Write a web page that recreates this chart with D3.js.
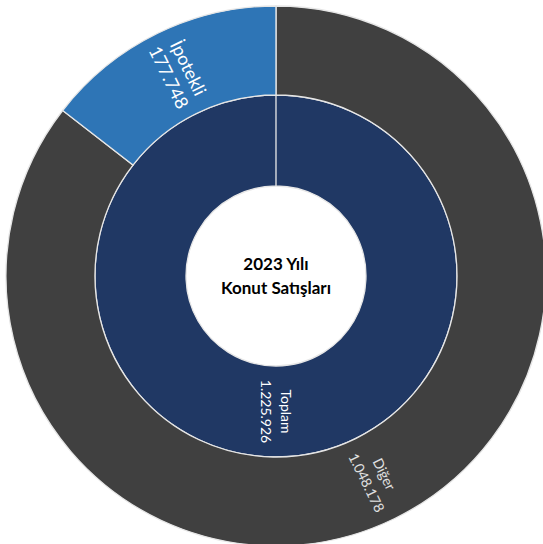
<!DOCTYPE html>
<html>
<head>
<meta charset="utf-8">
<script src="https://cdn.jsdelivr.net/npm/d3@7"></script>
<style>
  html, body { margin: 0; padding: 0; background: #fff; }
  svg { display: block; }
</style>
</head>
<body>
<div id="chart"></div>
<script>
// chart values
var titleLines = ["2023 Yılı", "Konut Satışları"];
var innerName = "Toplam";
var outerNames = ["Diğer", "İpotekli"];
var outerValues = [1048178, 177748];

// styles
var colors = { "Toplam": "#203864", "Diğer": "#404040", "İpotekli": "#2e75b6" };
var labelSize = { "Toplam": 14, "Diğer": 14, "İpotekli": 18 };

var width = 543, height = 544;
var cx = 276, cy = 276;

function fmt(v) {
    return String(v).replace(/\B(?=(\d{3})+(?!\d))/g, ".");
}

var root = d3.hierarchy({
    name: "root",
    children: [{
        name: innerName,
        children: outerNames.map(function (n, i) { return { name: n, value: outerValues[i] }; })
    }]
}).sum(function (d) { return d.value || 0; });

d3.partition().size([2 * Math.PI, 3])(root);

var radius = d3.scaleLinear().domain([0, 1, 2, 3]).range([0, 90, 181, 270]);

var arc = d3.arc()
    .startAngle(function (d) { return d.x0; })
    .endAngle(function (d) { return Math.min(d.x1, 2 * Math.PI - 1e-4); })
    .innerRadius(function (d) { return radius(d.y0); })
    .outerRadius(function (d) { return radius(d.y1); });

var svg = d3.select("#chart").append("svg")
    .attr("width", width)
    .attr("height", height);

var g = svg.append("g").attr("transform", "translate(" + cx + "," + cy + ")");

var nodes = root.descendants().filter(function (d) { return d.depth > 0; });

g.selectAll("path")
    .data(nodes)
    .enter()
    .append("path")
    .attr("d", arc)
    .attr("fill", function (d) { return colors[d.data.name]; })
    .attr("stroke", "#e6e6e6")
    .attr("stroke-width", 1.3);

var labels = g.selectAll("text.lbl")
    .data(nodes)
    .enter()
    .append("text")
    .attr("class", "lbl")
    .attr("transform", function (d) {
        var a = (d.x0 + d.x1) / 2;
        var r = (radius(d.y0) + radius(d.y1)) / 2;
        var deg = a * 180 / Math.PI;
        var rot = deg <= 180.001 ? deg - 90 : deg + 90;
        var x = r * Math.sin(a), y = -r * Math.cos(a);
        return "translate(" + x + "," + y + ") rotate(" + rot + ")";
    })
    .attr("text-anchor", "middle")
    .attr("fill", function (d) { return d.data.name === "Diğer" ? "#e0e0e0" : "#ffffff"; })
    .style("font-family", "Lato, 'Open Sans', sans-serif")
    .style("font-size", function (d) { return labelSize[d.data.name] + "px"; });

labels.append("tspan")
    .attr("x", 0)
    .attr("dy", "-0.35em")
    .text(function (d) { return d.data.name; });

labels.append("tspan")
    .attr("x", 0)
    .attr("dy", function (d) { return labelSize[d.data.name] < 16 ? "1.4em" : "1.2em"; })
    .text(function (d) { return fmt(d.value); });

var title = g.append("text")
    .attr("text-anchor", "middle")
    .style("font-family", "Lato, 'Open Sans', sans-serif")
    .style("font-weight", "bold")
    .style("font-size", "17px")
    .attr("fill", "#000");

title.selectAll("tspan")
    .data(titleLines)
    .enter()
    .append("tspan")
    .attr("x", 0)
    .attr("y", function (d, i) { return -6 + i * 24; })
    .text(function (d) { return d; });
</script>
</body>
</html>
